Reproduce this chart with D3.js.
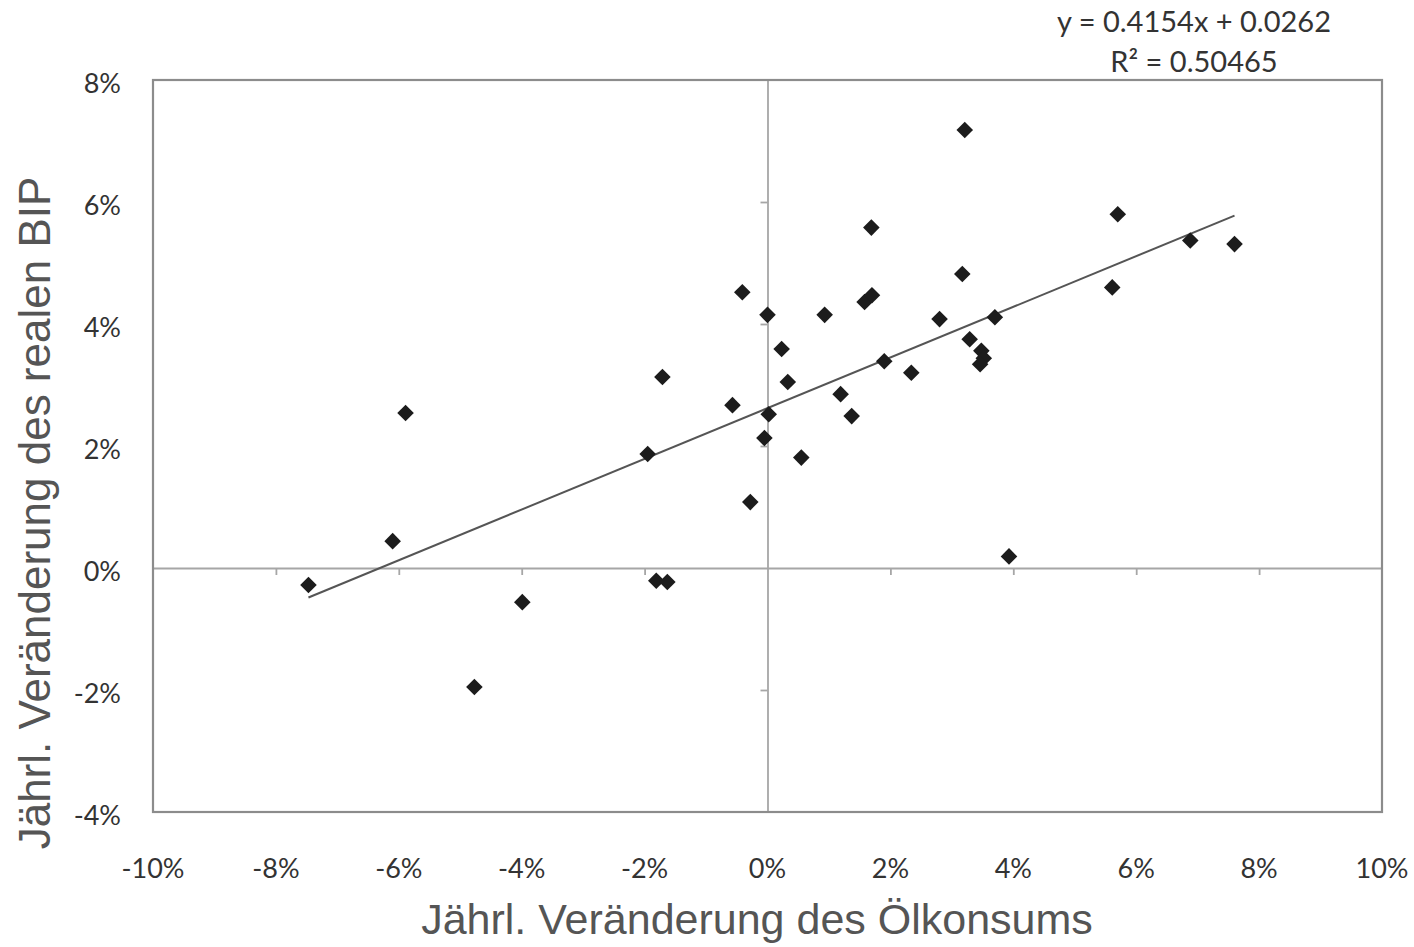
<!DOCTYPE html>
<html>
<head>
<meta charset="utf-8">
<script src="https://cdn.jsdelivr.net/npm/d3@7"></script>
<style>
  body { margin: 0; background: #fff; }
  svg { display: block; }
</style>
</head>
<body>
<script>
// chart data (in %)
var oilChange = [-7.47, -6.10, -5.89, -4.77, -3.99, -1.95, -1.71, -1.81, -1.63, -0.57,
                 -0.41, -0.28, -0.05, 0.00, 0.02, 0.23, 0.33, 0.55, 0.93, 1.19,
                 1.37, 1.69, 1.58, 1.70, 1.90, 2.34, 2.80, 3.17, 3.21, 3.29,
                 3.48, 3.52, 3.46, 3.70, 3.93, 5.61, 5.70, 6.88, 7.60];
var gdpChange = [-0.28, 0.44, 2.54, -1.95, -0.56, 1.87, 3.13, -0.21, -0.23, 2.67,
                 4.52, 1.08, 2.13, 4.15, 2.52, 3.59, 3.05, 1.81, 4.15, 2.85,
                 2.49, 5.58, 4.36, 4.47, 3.39, 3.20, 4.08, 4.82, 7.18, 3.75,
                 3.56, 3.44, 3.34, 4.11, 0.19, 4.60, 5.80, 5.37, 5.31];
var xTicks = [-10, -8, -6, -4, -2, 0, 2, 4, 6, 8, 10];
var yTicks = [-4, -2, 0, 2, 4, 6, 8];
var slope = 0.4154, intercept = 2.62;   // y = 0.4154x + 0.0262
var eqLabel = "y = 0.4154x + 0.0262";
var r2Label = "R² = 0.50465";

var svg_width = 1414, svg_height = 947;
var plot = { left: 153, right: 1382, top: 80, bottom: 812 };

const svg = d3.select('body').append('svg')
    .attr('width', svg_width)
    .attr('height', svg_height);

const x = d3.scaleLinear().domain([-10, 10]).range([plot.left, plot.right]);
const y = d3.scaleLinear().domain([-4, 8]).range([plot.bottom, plot.top]);

const points = oilChange.map((d, i) => ({ x: d, y: gdpChange[i] }));

// zero lines with small ticks
svg.append('g')
    .attr('transform', `translate(0,${y(0)})`)
    .call(d3.axisBottom(x).tickValues(xTicks.filter(d => d > -10 && d < 10 && d !== 0))
        .tickSize(7).tickFormat('').tickSizeOuter(0));
svg.append('g')
    .attr('transform', `translate(${x(0)},0)`)
    .call(d3.axisLeft(y).tickValues(yTicks.filter(d => d > -4 && d < 8 && d !== 0))
        .tickSize(7).tickFormat('').tickSizeOuter(0));
svg.selectAll('.domain, .tick line')
    .attr('stroke', '#a6a6a6')
    .attr('stroke-width', 1.8);

// plot frame
svg.append('rect')
    .attr('x', plot.left).attr('y', plot.top)
    .attr('width', plot.right - plot.left)
    .attr('height', plot.bottom - plot.top)
    .attr('fill', 'none')
    .attr('stroke', '#8c8c8c')
    .attr('stroke-width', 2.2);

// tick labels
svg.append('g').selectAll('text')
    .data(xTicks).enter().append('text')
    .attr('x', d => x(d))
    .attr('y', 878)
    .attr('text-anchor', 'middle')
    .attr('font-family', 'Lato, "Open Sans", sans-serif')
    .attr('font-size', 27)
    .attr('fill', '#333')
    .text(d => d + '%');

svg.append('g').selectAll('text')
    .data(yTicks).enter().append('text')
    .attr('x', 121)
    .attr('y', d => y(d) + 13)
    .attr('text-anchor', 'end')
    .attr('font-family', 'Lato, "Open Sans", sans-serif')
    .attr('font-size', 27)
    .attr('fill', '#333')
    .text(d => d + '%');

// trend line across the data range
const xExt = d3.extent(oilChange);
svg.append('line')
    .attr('x1', x(xExt[0])).attr('y1', y(slope * xExt[0] + intercept))
    .attr('x2', x(xExt[1])).attr('y2', y(slope * xExt[1] + intercept))
    .attr('stroke', '#555')
    .attr('stroke-width', 2);

// diamond markers
const diamond = d3.symbol().type(d3.symbolDiamond2).size(175);
svg.append('g').selectAll('path')
    .data(points).enter().append('path')
    .attr('transform', d => `translate(${x(d.x)},${y(d.y)})`)
    .attr('d', diamond)
    .attr('fill', '#1c1c1c');

// equation labels
svg.append('text')
    .attr('x', 1194).attr('y', 32)
    .attr('text-anchor', 'middle')
    .attr('font-family', 'Lato, "Open Sans", sans-serif')
    .attr('font-size', 29)
    .attr('fill', '#333')
    .text(eqLabel);
svg.append('text')
    .attr('x', 1194).attr('y', 72)
    .attr('text-anchor', 'middle')
    .attr('font-family', 'Lato, "Open Sans", sans-serif')
    .attr('font-size', 29)
    .attr('fill', '#333')
    .text(r2Label);

// axis titles
svg.append('text')
    .attr('x', 757).attr('y', 934)
    .attr('text-anchor', 'middle')
    .attr('font-family', '"Liberation Sans", Arial, sans-serif')
    .attr('font-size', 43)
    .attr('fill', '#555')
    .text('Jährl. Veränderung des Ölkonsums');
svg.append('text')
    .attr('transform', 'translate(50,513) rotate(-90)')
    .attr('text-anchor', 'middle')
    .attr('font-family', '"Liberation Sans", Arial, sans-serif')
    .attr('font-size', 44)
    .attr('fill', '#555')
    .text('Jährl. Veränderung des realen BIP');
</script>
</body>
</html>
